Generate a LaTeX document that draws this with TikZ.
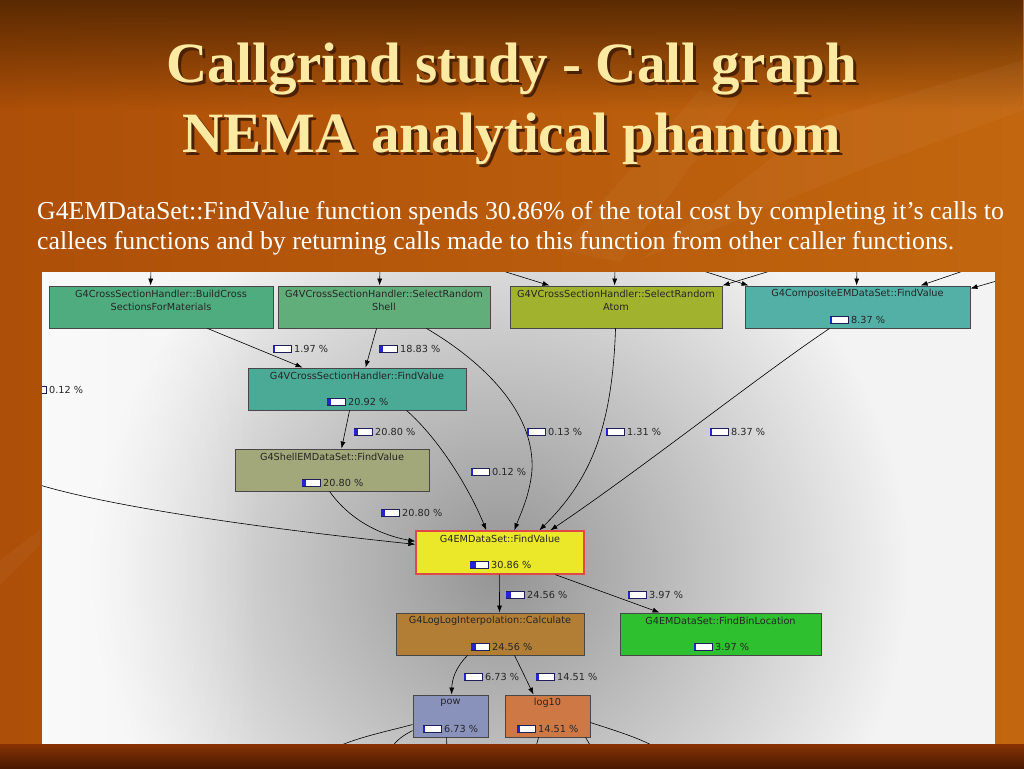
\documentclass[tikz,border=0pt]{standalone}
\usepackage{fontspec}
\setmainfont{Liberation Serif}
\newfontfamily\gfont{DejaVu Sans}
\usetikzlibrary{arrows.meta,calc,fadings}
\definecolor{bgleft}{HTML}{AD4F08}
\definecolor{bgright}{HTML}{C2660F}
\definecolor{topdark}{HTML}{5A2A02}
\definecolor{botA}{HTML}{883203}
\definecolor{botB}{HTML}{4A1A02}
\definecolor{titlecol}{HTML}{FCE9A2}
\definecolor{shadowcol}{HTML}{4A2203}
\definecolor{panelbg}{HTML}{F3F3F3}
\definecolor{cBuild}{RGB}{78,172,126}
\definecolor{cShell}{RGB}{98,174,122}
\definecolor{cAtom}{RGB}{160,178,46}
\definecolor{cComp}{RGB}{82,176,166}
\definecolor{cVCSH}{RGB}{74,170,150}
\definecolor{cShellEM}{RGB}{162,168,122}
\definecolor{cEM}{RGB}{234,232,40}
\definecolor{cLog}{RGB}{178,126,54}
\definecolor{cBin}{RGB}{46,192,46}
\definecolor{cPow}{RGB}{136,146,186}
\definecolor{cLog10}{RGB}{206,120,70}
\definecolor{barnavy}{HTML}{1E1E5A}
\definecolor{barblue}{HTML}{2424D0}
\definecolor{emred}{HTML}{E04848}
\newcommand\pctlab[4]{%
  \node[gtext,anchor=west] (#1) at #2 {#4};
  \draw[barframe] ($(#1.west)+(-21,-3.2)$) rectangle ($(#1.west)+(-3,3.2)$);
  \fill[barfill] ($(#1.west)+(-20.6,-2.8)$) rectangle ($(#1.west)+({-20.6+max(1.3,17.2*#3)},2.8)$);
}
\newcommand\shadowed[1]{\makebox[0pt][l]{\hspace{3pt}\raisebox{-3pt}{\color{shadowcol}#1}}#1}
\begin{document}
\begin{tikzpicture}[x=1pt,y=-1pt,
  gbox/.style={draw=black!72, line width=0.9pt, minimum height=42pt, inner sep=0pt, rectangle},
  gtext/.style={font=\gfont\fontsize{9.7}{11}\selectfont, text=black!85, inner sep=0pt},
  edge/.style={draw=black, line width=0.6pt, -{Latex[length=7pt,width=5pt]}},
  lead/.style={draw=black, line width=0.6pt},
  barframe/.style={draw=barnavy, line width=0.7pt, fill=white},
  barfill/.style={fill=barblue},
  title/.style={font=\bfseries\fontsize{57}{60}\selectfont, text=titlecol, inner sep=0pt, anchor=base},
  para/.style={font=\fontsize{25.8}{28}\selectfont, text=white, inner sep=0pt, anchor=base west}]
\useasboundingbox (0,0) rectangle (1024,768);
% slide background
\shade[left color=bgleft, right color=bgright] (0,0) rectangle (1024,768);
\fill[topdark, path fading=south] (0,0) rectangle (1024,110);
\fill[white, opacity=0.035] (640,260) -- (820,120) -- (1024,60) -- (1024,110) -- (860,170) -- cycle;
\fill[white, opacity=0.03] (560,250) -- (700,90) -- (740,100) -- (620,262) -- cycle;
\fill[white, opacity=0.04] (0,560) -- (40,530) -- (40,545) -- (0,585) -- cycle;
% title
\node[title] (t1) at (512,82) {\shadowed{Callgrind study - Call graph}};
\node[title] (t2) at (512,152) {\shadowed{NEMA analytical phantom}};
\node[para] (p1) at (37,219) {G4EMDataSet::FindValue function spends 30.86\% of the total cost by completing it’s calls to};
\node[para] (p2) at (37,249) {callees functions and by returning calls made to this function from other caller functions.};
% graph panel
\fill[panelbg] (42,272) rectangle (995,744);
\begin{scope}
\clip (42,272) rectangle (995,744);
\shade[inner color=black!42, outer color=panelbg] (500,570) circle (410);
\fill[white, opacity=0.6, path fading=east] (42,272) rectangle (260,744);
% nodes
\node[gbox, fill=cBuild, minimum width=224pt] (n1) at (161,307) {};
\node[gbox, fill=cShell, minimum width=212pt] (n2) at (384,307) {};
\node[gbox, fill=cAtom, minimum width=212pt] (n3) at (616,307) {};
\node[gbox, fill=cComp, minimum width=225pt] (n4) at (857.5,307) {};
\node[gbox, fill=cVCSH, minimum width=218pt] (n5) at (357,389) {};
\node[gbox, fill=cShellEM, minimum width=194pt] (n6) at (332,470) {};
\node[gbox, fill=cEM, draw=emred, line width=1.3pt, minimum width=168pt, minimum height=43pt] (n7) at (500,552.5) {};
\node[gbox, fill=cLog, minimum width=188pt] (n8) at (490,634) {};
\node[gbox, fill=cBin, minimum width=201pt] (n9) at (720.5,634) {};
\node[gbox, fill=cPow, minimum width=75pt] (n10) at (450.5,716) {};
\node[gbox, fill=cLog10, minimum width=85pt] (n11) at (547.5,716) {};
% node texts
\node[gtext] (n1a) at ($(n1.north)+(0,8)$) {G4CrossSectionHandler::BuildCross};
\node[gtext] (n1b) at ($(n1.north)+(0,21)$) {SectionsForMaterials};
\node[gtext] (n2a) at ($(n2.north)+(0,8)$) {G4VCrossSectionHandler::SelectRandom};
\node[gtext] (n2b) at ($(n2.north)+(0,21)$) {Shell};
\node[gtext] (n3a) at ($(n3.north)+(0,8)$) {G4VCrossSectionHandler::SelectRandom};
\node[gtext] (n3b) at ($(n3.north)+(0,21)$) {Atom};
\node[gtext] (n4a) at ($(n4.north)+(0,8)$) {G4CompositeEMDataSet::FindValue};
\node[gtext] (n5a) at ($(n5.north)+(0,8)$) {G4VCrossSectionHandler::FindValue};
\node[gtext] (n6a) at ($(n6.north)+(0,8)$) {G4ShellEMDataSet::FindValue};
\node[gtext] (n7a) at ($(n7.north)+(0,8.5)$) {G4EMDataSet::FindValue};
\node[gtext] (n8a) at ($(n8.north)+(0,8)$) {G4LogLogInterpolation::Calculate};
\node[gtext] (n9a) at ($(n9.north)+(0,8)$) {G4EMDataSet::FindBinLocation};
\node[gtext] (n10a) at ($(n10.north)+(0,8)$) {pow};
\node[gtext] (n11a) at ($(n11.north)+(0,8)$) {log10};
\pctlab{q4}{(851,320)}{0.0837}{8.37 \%}
\pctlab{q5}{(348,402)}{0.2092}{20.92 \%}
\pctlab{q6}{(323,483)}{0.2080}{20.80 \%}
\pctlab{q7}{(491,565)}{0.3086}{30.86 \%}
\pctlab{q8}{(492,647)}{0.2456}{24.56 \%}
\pctlab{q9}{(715,647)}{0.0397}{3.97 \%}
\pctlab{q10}{(444,729)}{0.0673}{6.73 \%}
\pctlab{q11}{(538,729)}{0.1451}{14.51 \%}
% free ends
\coordinate (in1) at (151,268);
\coordinate (in2) at (380,268);
\coordinate (in3) at (490,267);
\coordinate (in4) at (615,268);
\coordinate (in5) at (780,268);
\coordinate (in6) at (694,268);
\coordinate (in7) at (857,268);
\coordinate (in8) at (972,268);
\coordinate (in9) at (1000,280);
\coordinate (lf) at (30,482);
\coordinate (o1) at (330,750);
\coordinate (o2) at (390,750);
\coordinate (o3) at (447,750);
\coordinate (o4) at (535,750);
\coordinate (o5) at (593,750);
\coordinate (o6) at (660,750);
% incoming edges from above
\draw[edge] (in1) -- ($(n1.north west)+(102,0)$);
\draw[edge] (in2) -- ($(n2.north west)+(102,0)$);
\draw[edge] (in3) -- ($(n3.north west)+(40,0)$);
\draw[edge] (in4) -- ($(n3.north west)+(105,0)$);
\draw[edge] (in5) -- ($(n3.north east)+(0,0)$);
\draw[edge] (in6) -- ($(n4.north west)+(4,0)$);
\draw[edge] (in7) -- ($(n4.north west)+(112,0)$);
\draw[edge] (in8) -- ($(n4.north west)+(176,0)$);
\draw[edge] (in9) -- ($(n4.north east)+(0,3)$);
% internal edges
\draw[edge] ($(n1.south west)+(159,0)$) -- ($(n5.north west)+(55,0)$);
\draw[edge] ($(n2.south west)+(99,0)$) -- ($(n5.north west)+(118,0)$);
\draw[edge] ($(n2.south west)+(149,0)$) .. controls (480,360) and (535,410) .. (532,470) .. controls (530,495) and (520,515) .. ($(n7.north west)+(99,0)$);
\draw[edge] ($(n5.south west)+(159,0)$) .. controls (440,440) and (470,490) .. ($(n7.north west)+(71,0)$);
\draw[edge] ($(n3.south west)+(106,0)$) .. controls (612,430) and (590,480) .. ($(n7.north west)+(124,0)$);
\draw[edge] ($(n4.south west)+(85,0)$) .. controls (760,375) and (640,470) .. ($(n7.north west)+(135,0)$);
\draw[edge] ($(n5.south west)+(102,0)$) -- ($(n6.north west)+(107,0)$);
\draw[edge] ($(n6.south west)+(95,0)$) .. controls (350,520) and (380,535) .. ($(n7.north west)+(0,11)$);
\draw[edge] (lf) .. controls (100,505) and (250,527) .. ($(n7.north west)+(0,14)$);
\draw[edge] ($(n7.south west)+(84,0)$) -- ($(n8.north west)+(104,0)$);
\draw[edge] ($(n7.south west)+(140,0)$) -- ($(n9.north west)+(40,0)$);
\draw[edge] ($(n8.south west)+(72,0)$) .. controls (455,668) and (452,680) .. ($(n10.north west)+(39,0)$);
\draw[edge] ($(n8.south west)+(119,0)$) -- ($(n11.north west)+(29,0)$);
% outgoing edges below
\draw[lead] ($(n10.north west)+(0,30)$) .. controls (380,733) and (355,738) .. (o1);
\draw[lead] ($(n10.north west)+(0,36)$) .. controls (400,737) and (395,742) .. (o2);
\draw[lead] ($(n10.south west)+(34,0)$) -- (o3);
\draw[lead] ($(n11.south west)+(34,0)$) -- (o4);
\draw[lead] ($(n11.south west)+(81,0)$) -- (o5);
\draw[lead] ($(n11.north east)+(0,28)$) .. controls (620,732) and (645,740) .. (o6);
% edge labels
\pctlab{e1}{(294,349)}{0.0197}{1.97 \%}
\pctlab{e2}{(400,349)}{0.1883}{18.83 \%}
\pctlab{e3}{(49,390)}{0.0012}{0.12 \%}
\pctlab{e4}{(375,432)}{0.2080}{20.80 \%}
\pctlab{e5}{(548,432)}{0.0013}{0.13 \%}
\pctlab{e6}{(627,432)}{0.0131}{1.31 \%}
\pctlab{e7}{(731,432)}{0.0837}{8.37 \%}
\pctlab{e8}{(492,472)}{0.0012}{0.12 \%}
\pctlab{e9}{(402,513)}{0.2080}{20.80 \%}
\pctlab{e10}{(527,595)}{0.2456}{24.56 \%}
\pctlab{e11}{(649,595)}{0.0397}{3.97 \%}
\pctlab{e12}{(485,677)}{0.0673}{6.73 \%}
\pctlab{e13}{(557,677)}{0.1451}{14.51 \%}
\end{scope}
% bottom band of the slide
\shade[top color=botA, bottom color=botB] (0,744) rectangle (1024,768);
\end{tikzpicture}
\end{document}
